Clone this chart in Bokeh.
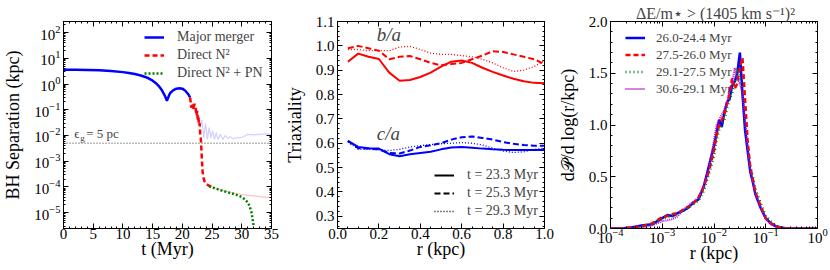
from bokeh.plotting import figure
from bokeh.models import (LinearAxis, LogAxis, FixedTicker, Legend, LegendItem, Label, Title,
                          Range1d, CustomJSTickFormatter)
from bokeh.layouts import row
from bokeh.embed import file_html
from bokeh.resources import INLINE

FONT = "Liberation Serif"
NAN = float("nan")

# ---------------- Panel 1: BH separation ----------------
t_merger = [0, 2, 4, 6, 8, 10, 11, 12, 13, 14, 15, 15.5, 16, 16.5, 17, 17.2, 17.4, 17.6, 17.8,
            18, 18.5, 19, 19.5, 20, 20.5, 21, 21.3]
sep_merger = [3.6, 3.6, 3.5, 3.4, 3.2, 2.9, 2.7, 2.45, 2.15, 1.8, 1.35, 1.1, 0.85, 0.6, 0.37,
              0.29, 0.22, 0.29, 0.38, 0.46, 0.58, 0.66, 0.69, 0.66, 0.55, 0.4, 0.3]
t_merger_faint = [21.3, 22.0, 22.4, 22.8, 23.0, 23.3, 23.6, 23.9, 24.2, 24.5, 24.8, 25.1, 25.4,
                  25.7, 26.0, 26.4, 26.8, 27.2, 27.6, 28.0, 28.5, 29.0, 29.5, 30.0, 30.5, 31.0,
                  32.0, 33.0, 34.0, 35.0]
sep_merger_faint = [0.3, 0.1, 0.05, 0.06, 0.02, 0.04, 0.008, 0.03, 0.007, 0.02, 0.008, 0.015,
                    0.007, 0.013, 0.007, 0.011, 0.007, 0.01, 0.0075, 0.009, 0.0075, 0.008, 0.008,
                    0.0085, 0.0095, 0.011, 0.0105, 0.011, 0.0115, 0.011]
t_direct = [21.3, 21.5, 21.7, 21.9, 22.0, 22.2, 22.4, 22.5, 22.6, 22.7, 22.8, 22.9, 23.0, 23.1,
            23.2, 23.3, 23.4, 23.5, 23.7, 24.0, 24.5, 25.0]
sep_direct = [0.3, 0.12, 0.18, 0.1, 0.17, 0.13, 0.06, 0.09, 0.04, 0.05, 0.025, 0.03, 0.012, 0.008,
              0.003, 0.001, 0.0004, 0.00025, 0.00017, 0.00013, 0.00011, 0.0001]
t_direct_faint = [25, 27, 29, 31, 33, 35]
sep_direct_faint = [1e-4, 7e-5, 5.5e-5, 4.7e-5, 4.2e-5, 3.8e-5]
t_pn = [24.5, 25, 26, 27, 28, 29, 29.5, 30, 30.5, 31, 31.3, 31.6, 31.8, 32.0]
sep_pn = [1.05e-4, 9.5e-5, 8e-5, 6.8e-5, 5.8e-5, 5e-5, 4.5e-5, 4e-5, 3.3e-5, 2.5e-5, 1.8e-5,
          1.1e-5, 6e-6, 3e-6]
t_soft = [0, 35]
sep_soft = [5e-3, 5e-3]
p1_xticks = [0, 5, 10, 15, 20, 25, 30, 35]
p1_yticks = [1e-5, 1e-4, 1e-3, 1e-2, 1e-1, 1e0, 1e1, 1e2]

# ---------------- Panel 2: triaxiality ----------------
r_tri = [0.05, 0.1, 0.15, 0.2, 0.25, 0.3, 0.35, 0.4, 0.45, 0.5, 0.55, 0.6, 0.65, 0.7, 0.75, 0.8,
         0.85, 0.9, 0.95, 1.0]
ba_233 = [0.935, 0.968, 0.955, 0.946, 0.89, 0.857, 0.86, 0.872, 0.89, 0.915, 0.935, 0.94, 0.93,
          0.91, 0.893, 0.878, 0.865, 0.855, 0.848, 0.846]
ba_253 = [0.99, 1.0, 0.99, 0.98, 0.945, 0.955, 0.958, 0.945, 0.93, 0.92, 0.925, 0.93, 0.945,
          0.96, 0.978, 0.975, 0.965, 0.955, 0.945, 0.925]
ba_293 = [0.985, 0.985, 0.98, 0.98, 0.98, 0.995, 0.998, 0.985, 0.97, 0.965, 0.965, 0.96, 0.955,
          0.945, 0.93, 0.91, 0.895, 0.9, 0.915, 0.94]
ca_233 = [0.61, 0.585, 0.58, 0.578, 0.555, 0.547, 0.555, 0.56, 0.565, 0.575, 0.583, 0.585,
          0.582, 0.578, 0.575, 0.573, 0.572, 0.572, 0.572, 0.572]
ca_253 = [0.61, 0.58, 0.578, 0.575, 0.56, 0.558, 0.57, 0.585, 0.592, 0.6, 0.615, 0.625, 0.628,
          0.622, 0.615, 0.605, 0.598, 0.593, 0.59, 0.59]
ca_293 = [0.605, 0.575, 0.575, 0.573, 0.57, 0.575, 0.585, 0.59, 0.595, 0.598, 0.6, 0.603, 0.6,
          0.593, 0.58, 0.568, 0.562, 0.565, 0.575, 0.58]
p2_times = ["t = 23.3 Myr", "t = 25.3 Myr", "t = 29.3 Myr"]
p2_xticks = [0.0, 0.2, 0.4, 0.6, 0.8, 1.0]
p2_yticks = [0.3, 0.4, 0.5, 0.6, 0.7, 0.8, 0.9, 1.0, 1.1]

# ---------------- Panel 3: ejection radii distribution ----------------
logr = [-4.0, -3.8, -3.6, -3.4, -3.2, -3.0, -2.9, -2.8, -2.7, -2.6, -2.5, -2.4, -2.3, -2.2, -2.1,
        -2.0, -1.95, -1.9, -1.85, -1.8, -1.75, -1.7, -1.65, -1.6, -1.55, -1.5, -1.45, -1.4,
        -1.35, -1.3, -1.25, -1.2, -1.1, -1.0, -0.9, -0.8, -0.7, -0.6, -0.4, -0.2, 0.0]
dp_244_260 = [0.0, 0.0, 0.01, 0.03, 0.04, 0.10, 0.13, 0.12, 0.15, 0.17, 0.20, 0.25, 0.28, 0.40,
              0.60, 0.80, 0.92, 1.05, 0.98, 1.12, 1.22, 1.25, 1.38, 1.42, 1.50, 1.70, 1.30, 0.95,
              0.75, 0.55, 0.45, 0.33, 0.20, 0.10, 0.05, 0.02, 0.01, 0.0, 0.0, 0.0, 0.0]
dp_260_275 = [0.0, 0.0, 0.01, 0.02, 0.05, 0.11, 0.12, 0.14, 0.15, 0.18, 0.21, 0.24, 0.30, 0.40,
              0.55, 0.75, 0.90, 1.00, 1.05, 1.10, 1.20, 1.30, 1.45, 1.35, 1.40, 1.55, 1.65, 1.25,
              0.85, 0.60, 0.48, 0.35, 0.22, 0.10, 0.05, 0.02, 0.01, 0.0, 0.0, 0.0, 0.0]
dp_275_291 = [0.0, 0.0, 0.0, 0.02, 0.04, 0.09, 0.11, 0.12, 0.14, 0.17, 0.20, 0.23, 0.27, 0.36,
              0.52, 0.70, 0.85, 0.95, 1.00, 1.05, 1.15, 1.25, 1.30, 1.40, 1.55, 1.45, 1.35, 1.00,
              0.80, 0.60, 0.50, 0.38, 0.25, 0.12, 0.07, 0.03, 0.01, 0.0, 0.0, 0.0, 0.0]
dp_291_306 = [0.0, 0.0, 0.0, 0.01, 0.03, 0.07, 0.08, 0.09, 0.12, 0.18, 0.22, 0.26, 0.30, 0.42,
              0.58, 0.85, 1.00, 1.05, 1.10, 1.15, 1.20, 1.35, 1.40, 1.55, 1.45, 1.40, 1.30, 1.05,
              0.80, 0.58, 0.45, 0.34, 0.20, 0.09, 0.04, 0.02, 0.0, 0.0, 0.0, 0.0, 0.0]
p3_labels = ["26.0-24.4 Myr", "27.5-26.0 Myr", "29.1-27.5 Myr", "30.6-29.1 Myr"]
p3_title = "ΔE/m⋆ > (1405 km s⁻¹)²"
p3_xticks = [1e-4, 1e-3, 1e-2, 1e-1, 1e0]
p3_yticks = [0.0, 0.5, 1.0, 1.5, 2.0]

r_ej = [10 ** v for v in logr]

BLUE, RED, GREEN, MAG = "#0000ff", "#ff0000", "#008000", "#bf00bf"
EMPTY = CustomJSTickFormatter(code="return ''")
ONE_DEC = CustomJSTickFormatter(code="return tick.toFixed(1)")


def style_axis(ax, label=True, xaxis=True):
    ax.major_tick_in = 5
    ax.major_tick_out = 0
    ax.minor_tick_in = 2
    ax.minor_tick_out = 0
    ax.axis_line_color = "black"
    ax.major_tick_line_color = "black"
    ax.minor_tick_line_color = "black"
    ax.major_label_text_font = FONT
    ax.major_label_text_font_size = "15px"
    ax.major_label_text_color = "black"
    ax.major_label_standoff = 0 if xaxis else 3
    ax.axis_label_text_font = FONT
    ax.axis_label_text_font_size = "18px"
    ax.axis_label_text_font_style = "normal"
    ax.axis_label_text_color = "black"
    ax.axis_label_standoff = -3 if xaxis else 8
    if not label:
        ax.major_label_text_font_size = "1px"
        ax.major_label_standoff = 0
        ax.axis_label_standoff = 0


def make_fig(x_type, y_type, xr, yr, fw, left, right):
    p = figure(x_axis_type=x_type, y_axis_type=y_type, x_range=xr, y_range=yr,
               frame_width=fw, frame_height=207, min_border_left=left, min_border_right=right,
               min_border_top=21, min_border_bottom=36, output_backend="svg",
               toolbar_location=None)
    p.xgrid.visible = False
    p.ygrid.visible = False
    p.outline_line_color = "black"
    p.background_fill_color = "white"
    p.border_fill_color = "white"
    return p


def mirror(p, xtick, ytick, xlog=False, ylog=False):
    AxX = LogAxis if xlog else LinearAxis
    AxY = LogAxis if ylog else LinearAxis
    top = AxX(ticker=xtick, formatter=EMPTY)
    rgt = AxY(ticker=ytick, formatter=EMPTY)
    style_axis(top, label=False)
    style_axis(rgt, label=False)
    p.add_layout(top, "above")
    p.add_layout(rgt, "right")


def legend(items, loc, row_h, standoff, size="14px"):
    lg = Legend(items=items, location=loc, spacing=0, padding=0, margin=0,
                glyph_width=20, glyph_height=row_h, label_height=row_h,
                label_standoff=standoff, border_line_alpha=0, background_fill_alpha=0,
                label_text_font=FONT, label_text_font_size=size)
    return lg


# ---------- Figure 1 ----------
p1 = make_fig("linear", "log", Range1d(0, 35), Range1d(2.4e-6, 2.7e2), 208, 62, 10)
x1t = FixedTicker(ticks=p1_xticks, minor_ticks=list(range(0, 36)))
y1minor = [m * 10.0 ** e for e in range(-6, 3) for m in range(1, 10)]
y1t = FixedTicker(ticks=p1_yticks, minor_ticks=y1minor)
p1.xaxis.ticker = x1t
p1.yaxis.ticker = y1t
style_axis(p1.xaxis[0], xaxis=True)
style_axis(p1.yaxis[0], xaxis=False)
p1.xaxis.axis_label = "t (Myr)"
p1.yaxis.axis_label = "BH Separation (kpc)"
mirror(p1, x1t, y1t, ylog=True)

p1.line(t_soft, sep_soft, color="black", line_width=1, line_dash="1 2", line_alpha=0.8)
p1.line(t_merger_faint, sep_merger_faint, color=BLUE, line_width=1.2, line_alpha=0.18)
p1.line(t_direct_faint, sep_direct_faint, color=RED, line_width=1.2, line_alpha=0.25)
r_mm = p1.line(t_merger, sep_merger, color=BLUE, line_width=2.5)
r_dn = p1.line(t_direct, sep_direct, color=RED, line_width=2.5, line_dash="5 3")
r_pn = p1.line(t_pn, sep_pn, color=GREEN, line_width=2.5, line_dash="2 2")

p1.add_layout(Label(x=1.8, y=5e-3, y_offset=2, text="ϵ", text_font=FONT,
                    text_font_size="13px", text_baseline="bottom"))
p1.add_layout(Label(x=1.8, y=5e-3, x_offset=6, y_offset=0, text="g", text_font=FONT,
                    text_font_size="9px", text_baseline="bottom"))
p1.add_layout(Label(x=1.8, y=5e-3, x_offset=12, y_offset=2, text="= 5 pc", text_font=FONT,
                    text_font_size="13px", text_baseline="bottom"))

lg1 = legend([LegendItem(label="Major merger", renderers=[r_mm]),
              LegendItem(label="Direct N²", renderers=[r_dn]),
              LegendItem(label="Direct N² + PN", renderers=[r_pn])], (81, 146), 18, 13)
p1.add_layout(lg1)

# ---------- Figure 2 ----------
p2 = make_fig("linear", "linear", Range1d(0, 1), Range1d(0.25, 1.1), 207, 52, 10)
x2t = FixedTicker(ticks=p2_xticks, minor_ticks=[i * 0.05 for i in range(0, 21)])
y2t = FixedTicker(ticks=p2_yticks, minor_ticks=[0.26 + i * 0.02 for i in range(0, 43)])
p2.xaxis.ticker = x2t
p2.yaxis.ticker = y2t
p2.xaxis.formatter = ONE_DEC
p2.yaxis.formatter = ONE_DEC
style_axis(p2.xaxis[0], xaxis=True)
style_axis(p2.yaxis[0], xaxis=False)
p2.xaxis.axis_label = "r (kpc)"
p2.yaxis.axis_label = "Triaxiality"
mirror(p2, x2t, y2t)

p2.line(r_tri, ba_233, color=RED, line_width=2)
p2.line(r_tri, ba_253, color=RED, line_width=2, line_dash="6 3")
p2.line(r_tri, ba_293, color=RED, line_width=1.3, line_dash="1 2")
p2.line(r_tri, ca_233, color=BLUE, line_width=2)
p2.line(r_tri, ca_253, color=BLUE, line_width=2, line_dash="6 3")
p2.line(r_tri, ca_293, color=BLUE, line_width=1.3, line_dash="1 2")

# legend-only proxies (no visible data)
k1 = p2.line([NAN], [NAN], color="black", line_width=2)
k2 = p2.line([NAN], [NAN], color="black", line_width=2, line_dash="6 3")
k3 = p2.line([NAN], [NAN], color="black", line_width=1.3, line_dash="1 2")

p2.add_layout(Label(x=0.19, y=1.045, text="b/a", text_font=FONT, text_font_size="19px",
                    text_font_style="italic", text_baseline="middle"))
p2.add_layout(Label(x=0.19, y=0.64, text="c/a", text_font=FONT, text_font_size="19px",
                    text_font_style="italic", text_baseline="middle"))

lg2 = legend([LegendItem(label=p2_times[0], renderers=[k1]),
              LegendItem(label=p2_times[1], renderers=[k2]),
              LegendItem(label=p2_times[2], renderers=[k3])], (97, 8), 18, 13)
p2.add_layout(lg2)

# ---------- Figure 3 ----------
p3 = make_fig("log", "linear", Range1d(1e-4, 1.0), Range1d(0, 2.0), 207, 53, 13)
x3minor = [m * 10.0 ** e for e in range(-4, 1) for m in range(1, 10)]
x3t = FixedTicker(ticks=p3_xticks, minor_ticks=x3minor)
y3t = FixedTicker(ticks=p3_yticks, minor_ticks=[i * 0.1 for i in range(0, 21)])
p3.xaxis.ticker = x3t
p3.yaxis.ticker = y3t
p3.yaxis.formatter = ONE_DEC
style_axis(p3.xaxis[0], xaxis=True)
style_axis(p3.yaxis[0], xaxis=False)
p3.xaxis.axis_label = "r (kpc)"
p3.yaxis.axis_label = "d𝒫/d log(r/kpc)"
mirror(p3, x3t, y3t, xlog=True)
p3.add_layout(Title(text=p3_title, align="center", text_font=FONT, text_font_size="16px",
                    text_font_style="normal", standoff=0, offset=0), "above")

s1 = p3.line(r_ej, dp_244_260, color=BLUE, line_width=2.5)
s2 = p3.line(r_ej, dp_260_275, color=RED, line_width=2.5, line_dash="5 3")
s3 = p3.line(r_ej, dp_275_291, color=GREEN, line_width=2.5, line_dash="1 3")
s4 = p3.line(r_ej, dp_291_306, color=MAG, line_width=2, line_dash="1 1")

lg3 = legend([LegendItem(label=p3_labels[0], renderers=[s1]),
              LegendItem(label=p3_labels[1], renderers=[s2]),
              LegendItem(label=p3_labels[2], renderers=[s3]),
              LegendItem(label=p3_labels[3], renderers=[s4])], (15, 131), 17, 11, "13px")
p3.add_layout(lg3)

layout = row(p1, p2, p3, spacing=0)
open("out.html", "w").write(file_html(layout, INLINE))
